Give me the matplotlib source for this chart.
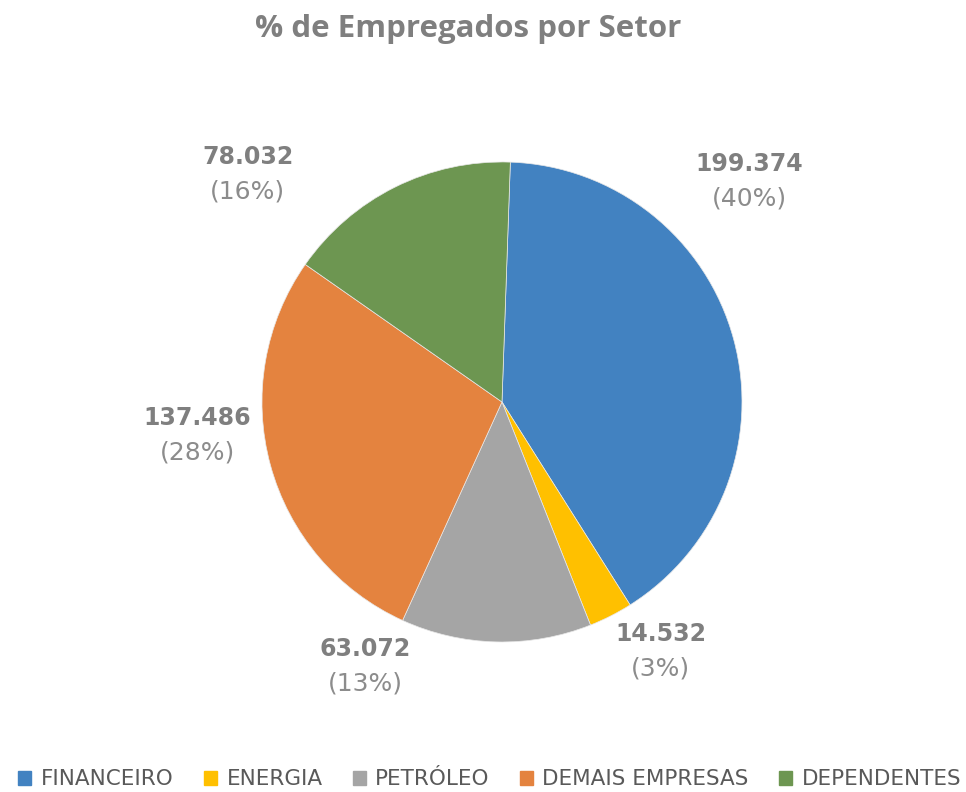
import matplotlib.pyplot as plt

# dados do grafico
setores = ["FINANCEIRO", "ENERGIA", "PETRÓLEO", "DEMAIS EMPRESAS", "DEPENDENTES"]
empregados = [199374, 14532, 63072, 137486, 78032]
cores = ["#4282C1", "#FFC000", "#A5A5A5", "#E4833F", "#6D9651"]

# posicoes dos rotulos (em raios do pie)
pos_rotulos = [(1.03, 0.92), (0.66, -1.04), (-0.57, -1.10), (-1.27, -0.14), (-1.06, 0.95)]

total = sum(empregados)

fig = plt.figure(figsize=(9.66, 7.92), dpi=100)
ax = fig.add_axes([0.2712, 0.1894, 0.4969, 0.6061])

ax.pie(empregados, colors=cores, startangle=88, counterclock=False,
       radius=1, wedgeprops=dict(edgecolor="#E8E8E8", linewidth=0.5))
ax.set_xlim(-1, 1)
ax.set_ylim(-1, 1)
ax.set_aspect("equal")

for valor, (x, y) in zip(empregados, pos_rotulos):
    txt = f"{valor:,}".replace(",", ".")
    pct = f"({round(valor / total * 100)}%)"
    ax.text(x, y + 0.072, txt, ha="center", va="center", fontsize=17,
            fontweight="bold", color="#7F7F7F", family="DejaVu Sans")
    ax.text(x, y - 0.072, pct, ha="center", va="center", fontsize=18,
            color="#8C8C8C", family="DejaVu Sans")

fig.text(0.4845, 0.963, "% de Empregados por Setor", ha="center", va="center",
         fontsize=22.5, fontweight="bold", color="#7F7F7F", family="Open Sans")

handles = [plt.Rectangle((0, 0), 1, 1, color=c) for c in cores]
fig.legend(handles, setores, loc="center", bbox_to_anchor=(0.507, 0.016),
           ncol=5, frameon=False,
           prop={"family": "DejaVu Sans", "size": 15.5},
           handlelength=0.6, handleheight=0.6, handletextpad=0.45,
           columnspacing=1.4, labelcolor="#595959")

fig.savefig("out.png", dpi=100)
